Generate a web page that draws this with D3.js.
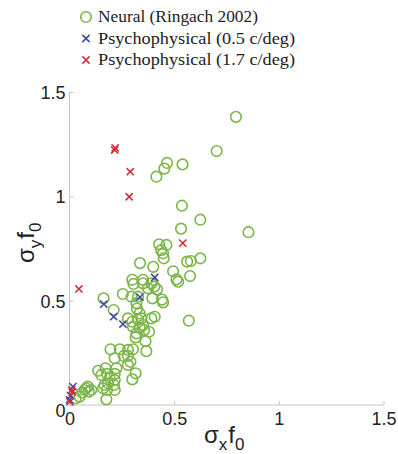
<!DOCTYPE html>
<html><head><meta charset="utf-8">
<script src="https://cdn.jsdelivr.net/npm/d3@7"></script>
<style>body{margin:0;background:#fff}svg{display:block}</style>
</head><body>
<script>
// ---- data ----
const xTicks = [0, 0.5, 1, 1.5];
const yTicks = [0, 0.5, 1, 1.5];
const tickLabels = ["0", "0.5", "1", "1.5"];
const legendLabels = ["Neural (Ringach 2002)", "Psychophysical (0.5 c/deg)", "Psychophysical (1.7 c/deg)"];
const neuralX = [0.795,0.703,0.540,0.466,0.453,0.415,0.537,0.625,0.533,0.855,
 0.428,0.463,0.438,0.447,0.450,0.337,0.400,0.495,0.562,0.580,0.625,0.576,0.519,0.570,
 0.300,0.306,0.351,0.351,0.391,0.405,0.418,0.375,0.511,
 0.255,0.296,0.327,0.396,0.442,0.447,0.163,
 0.211,0.320,0.322,0.335,0.279,0.300,0.327,0.344,0.391,0.407,
 0.303,0.335,0.351,0.320,0.356,0.380,0.316,0.363,0.367,
 0.196,0.240,0.279,0.303,0.216,0.259,0.279,0.291,0.279,0.224,
 0.137,0.172,0.152,0.179,0.216,0.316,0.300,0.192,0.216,
 0.168,0.184,0.212,0.160,0.179,0.216,0.176,
 0.088,0.072,0.092,0.061,0.048,0.104,0.029,0.080];
const neuralY = [1.381,1.217,1.153,1.160,1.133,1.094,0.955,0.888,0.845,0.828,
 0.770,0.767,0.742,0.727,0.703,0.680,0.662,0.641,0.687,0.690,0.703,0.618,0.591,0.404,
 0.600,0.580,0.600,0.583,0.583,0.567,0.554,0.559,0.602,
 0.532,0.519,0.519,0.511,0.505,0.492,0.511,
 0.455,0.488,0.462,0.439,0.415,0.399,0.410,0.415,0.415,0.423,
 0.375,0.372,0.383,0.343,0.359,0.351,0.324,0.306,0.258,
 0.267,0.267,0.264,0.267,0.224,0.235,0.235,0.207,0.192,0.176,
 0.164,0.176,0.144,0.149,0.149,0.152,0.123,0.128,0.120,
 0.096,0.104,0.096,0.080,0.072,0.072,0.027,
 0.088,0.072,0.064,0.059,0.040,0.072,0.032,0.080];
const psy05X = [0.164,0.211,0.255,0.337,0.407,0.016,0.005,0.000];
const psy05Y = [0.484,0.423,0.388,0.517,0.611,0.088,0.045,0.025];
const psy17X = [0.216,0.218,0.290,0.285,0.541,0.045,0.011,0.013,0.002];
const psy17Y = [1.222,1.232,1.118,0.998,0.776,0.556,0.072,0.062,0.015];

// ---- layout ----
const W = 398, H = 454;
const colors = {neural: "#7ab648", p05: "#3b4a9c", p17: "#d22b38"};
const svg = d3.select("body").append("svg").attr("width", W).attr("height", H);
const x = d3.scaleLinear().domain([0, 1.5]).range([69.5, 383.5]);
const y = d3.scaleLinear().domain([0, 1.5]).range([405, 92]);

const axisColor = "#c4c4c4";
const font = "'Liberation Sans', Arial, Helvetica, sans-serif";

// x axis (ticks inward)
const gx = svg.append("g").attr("transform", `translate(0,${y(0)})`)
  .call(d3.axisBottom(x).tickValues(xTicks).tickSize(-4).tickPadding(0).tickFormat((d,i)=>tickLabels[i]));
gx.select(".domain").attr("stroke", axisColor).attr("d", `M${x(0)},0H${x(1.5)}`);
gx.selectAll(".tick line").attr("stroke", axisColor);
gx.selectAll(".tick text").attr("font-family", font).attr("font-size", 18).attr("fill", "#222")
  .attr("y", 20).attr("dy", 0);

const gy = svg.append("g").attr("transform", `translate(${x(0)},0)`)
  .call(d3.axisLeft(y).tickValues(yTicks).tickSize(-4).tickPadding(0).tickFormat((d,i)=>tickLabels[i]));
gy.select(".domain").attr("stroke", axisColor).attr("d", `M0,${y(0)}V${y(1.5)}`);
gy.selectAll(".tick line").attr("stroke", axisColor);
gy.selectAll(".tick text").attr("font-family", font).attr("font-size", 18).attr("fill", "#222")
  .attr("x", -4).attr("dy", "0.36em");
gy.selectAll(".tick").filter(d => d === 0).select("text").attr("dy", "0.62em");

// axis labels
const xl = svg.append("text").attr("x", 204).attr("y", 443)
  .attr("font-family", font).attr("font-size", 24).attr("fill", "#222");
xl.append("tspan").text("σ");
xl.append("tspan").attr("font-size", 17).attr("dy", 7).text("x");
xl.append("tspan").attr("dy", -7).attr("dx", 1).text("f");
xl.append("tspan").attr("font-size", 17).attr("dy", 7).text("0");

const yl = svg.append("text").attr("transform", "translate(34,263) rotate(-90)")
  .attr("font-family", font).attr("font-size", 24).attr("fill", "#222");
yl.append("tspan").text("σ");
yl.append("tspan").attr("font-size", 17).attr("dy", 7).text("y");
yl.append("tspan").attr("dy", -7).attr("dx", 1).text("f");
yl.append("tspan").attr("font-size", 17).attr("dy", 7).text("0");

// marks
const neural = neuralX.map((v,i)=>[v, neuralY[i]]);
svg.append("g").selectAll("circle").data(neural).join("circle")
  .attr("cx", d=>x(d[0])).attr("cy", d=>y(d[1])).attr("r", 5.3)
  .attr("fill", "none").attr("stroke", colors.neural).attr("stroke-width", 1.6);

function cross(g, data, color) {
  const s = 3.6;
  g.selectAll("path").data(data).join("path")
    .attr("d", d => { const cx = x(d[0]), cy = y(d[1]);
      return `M${cx-s},${cy-s}L${cx+s},${cy+s}M${cx-s},${cy+s}L${cx+s},${cy-s}`; })
    .attr("stroke", color).attr("stroke-width", 1.5).attr("fill", "none");
}
cross(svg.append("g"), psy05X.map((v,i)=>[v, psy05Y[i]]), colors.p05);
cross(svg.append("g"), psy17X.map((v,i)=>[v, psy17Y[i]]), colors.p17);

// legend
const lg = svg.append("g");
const rows = [17, 38.5, 60];
lg.append("circle").attr("cx", 86).attr("cy", rows[0]).attr("r", 5.3)
  .attr("fill", "none").attr("stroke", colors.neural).attr("stroke-width", 1.6);
[[rows[1], colors.p05], [rows[2], colors.p17]].forEach(([cy, c]) => {
  const s = 3.6;
  lg.append("path").attr("d", `M${86-s},${cy-s}L${86+s},${cy+s}M${86-s},${cy+s}L${86+s},${cy-s}`)
    .attr("stroke", c).attr("stroke-width", 1.5);
});
const lens = [160, 197, 197];
legendLabels.forEach((t, i) => {
  lg.append("text").attr("x", 98).attr("y", rows[i] + 5)
    .attr("font-family", "'Liberation Serif', 'Times New Roman', serif").attr("font-size", 17)
    .attr("fill", "#222").attr("textLength", lens[i]).attr("lengthAdjust", "spacingAndGlyphs").text(t);
});
</script>
</body></html>
